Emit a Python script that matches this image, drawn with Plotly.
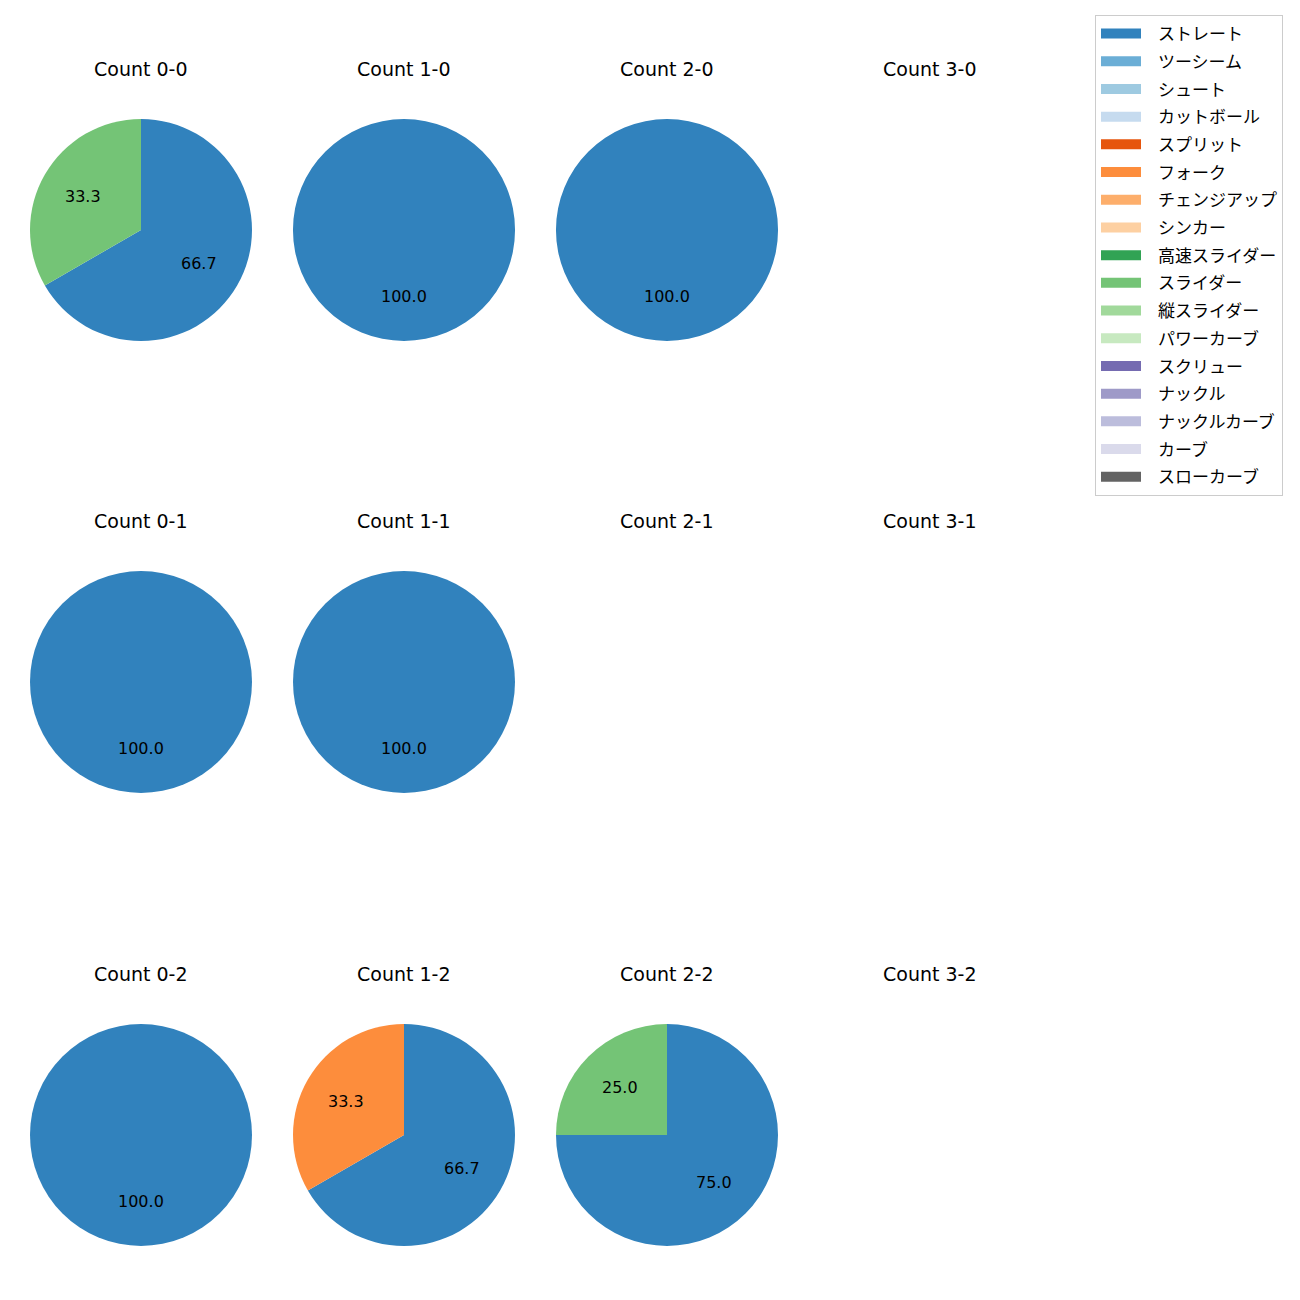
import math
import plotly.graph_objects as go

# ---- data ----
pitch_types = ["ストレート", "ツーシーム", "シュート", "カットボール", "スプリット", "フォーク",
               "チェンジアップ", "シンカー", "高速スライダー", "スライダー", "縦スライダー",
               "パワーカーブ", "スクリュー", "ナックル", "ナックルカーブ", "カーブ", "スローカーブ"]
type_colors = ["#3182bd", "#6baed6", "#9ecae1", "#c6dbef", "#e6550d", "#fd8d3c",
               "#fdae6b", "#fdd0a2", "#31a354", "#74c476", "#a1d99b", "#c7e9c0",
               "#756bb1", "#9e9ac8", "#bcbddc", "#dadaeb", "#636363"]

count_titles = ["Count 0-0", "Count 1-0", "Count 2-0", "Count 3-0",
                "Count 0-1", "Count 1-1", "Count 2-1", "Count 3-1",
                "Count 0-2", "Count 1-2", "Count 2-2", "Count 3-2"]
count_labels = [
    ["ストレート", "スライダー"],
    ["ストレート"],
    ["ストレート"],
    [],
    ["ストレート"],
    ["ストレート"],
    [],
    [],
    ["ストレート"],
    ["ストレート", "フォーク"],
    ["ストレート", "スライダー"],
    [],
]
count_values = [
    [2, 1],
    [1],
    [1],
    [],
    [1],
    [1],
    [],
    [],
    [1],
    [2, 1],
    [3, 1],
    [],
]

# ---- layout geometry (pixels) ----
W = H = 1300
col_cx = [141, 404, 667, 930]
row_cy = [230, 682, 1135]
R = 111
title_offset = 161
LATIN_FONT = "DejaVu Sans"
CJK_FONT = "Noto Sans CJK JP"

color_map = dict(zip(pitch_types, type_colors))

fig = go.Figure()
annotations = []

for i, (title, labs, vals) in enumerate(zip(count_titles, count_labels, count_values)):
    r, c = divmod(i, 4)
    cx, cy = col_cx[c], row_cy[r]
    annotations.append(dict(x=cx / W, y=1 - (cy - title_offset) / H, xref="paper", yref="paper",
                            text=title, showarrow=False,
                            font=dict(family=LATIN_FONT, size=19, color="black"),
                            xanchor="center", yanchor="middle"))
    if not vals:
        continue
    fig.add_trace(go.Pie(
        labels=labs, values=vals, sort=False, direction="clockwise", rotation=0,
        marker=dict(colors=[color_map[l] for l in labs], line=dict(width=0)),
        textinfo="none", hoverinfo="label+percent", showlegend=False,
        domain=dict(x=[(cx - R) / W, (cx + R) / W], y=[1 - (cy + R) / H, 1 - (cy - R) / H]),
    ))
    total = sum(vals)
    start = 0.0
    for v in vals:
        frac = v / total
        mid = start + frac / 2
        ang = math.radians(90 - 360 * mid)
        tx = cx + 0.6 * R * math.cos(ang)
        ty = cy - 0.6 * R * math.sin(ang)
        annotations.append(dict(x=tx / W, y=1 - ty / H, xref="paper", yref="paper",
                                text=f"{100 * frac:.1f}", showarrow=False,
                                font=dict(family=LATIN_FONT, size=16, color="black"),
                                xanchor="center", yanchor="middle"))
        start += frac

# legend entries (a little spacing before each name, as in the reference legend)
for name, col in zip(pitch_types, type_colors):
    fig.add_trace(go.Scatter(x=[None], y=[None], mode="lines", name="\u2002\u2009" + name,
                             line=dict(color=col, width=14), legendgroup=name,
                             hoverinfo="skip"))

fig.update_layout(
    width=W, height=H, margin=dict(l=0, r=0, t=0, b=0),
    paper_bgcolor="white", plot_bgcolor="white",
    xaxis=dict(visible=False), yaxis=dict(visible=False),
    annotations=annotations,
    font=dict(family=CJK_FONT, size=17, color="black"),
    legend=dict(x=1283 / W, y=1 - 15 / H, xanchor="right", yanchor="top",
                bordercolor="#cccccc", borderwidth=1, bgcolor="white",
                tracegroupgap=2.6, font=dict(family=CJK_FONT, size=17), itemwidth=40),
    showlegend=True,
)

fig.write_html("out.html")
